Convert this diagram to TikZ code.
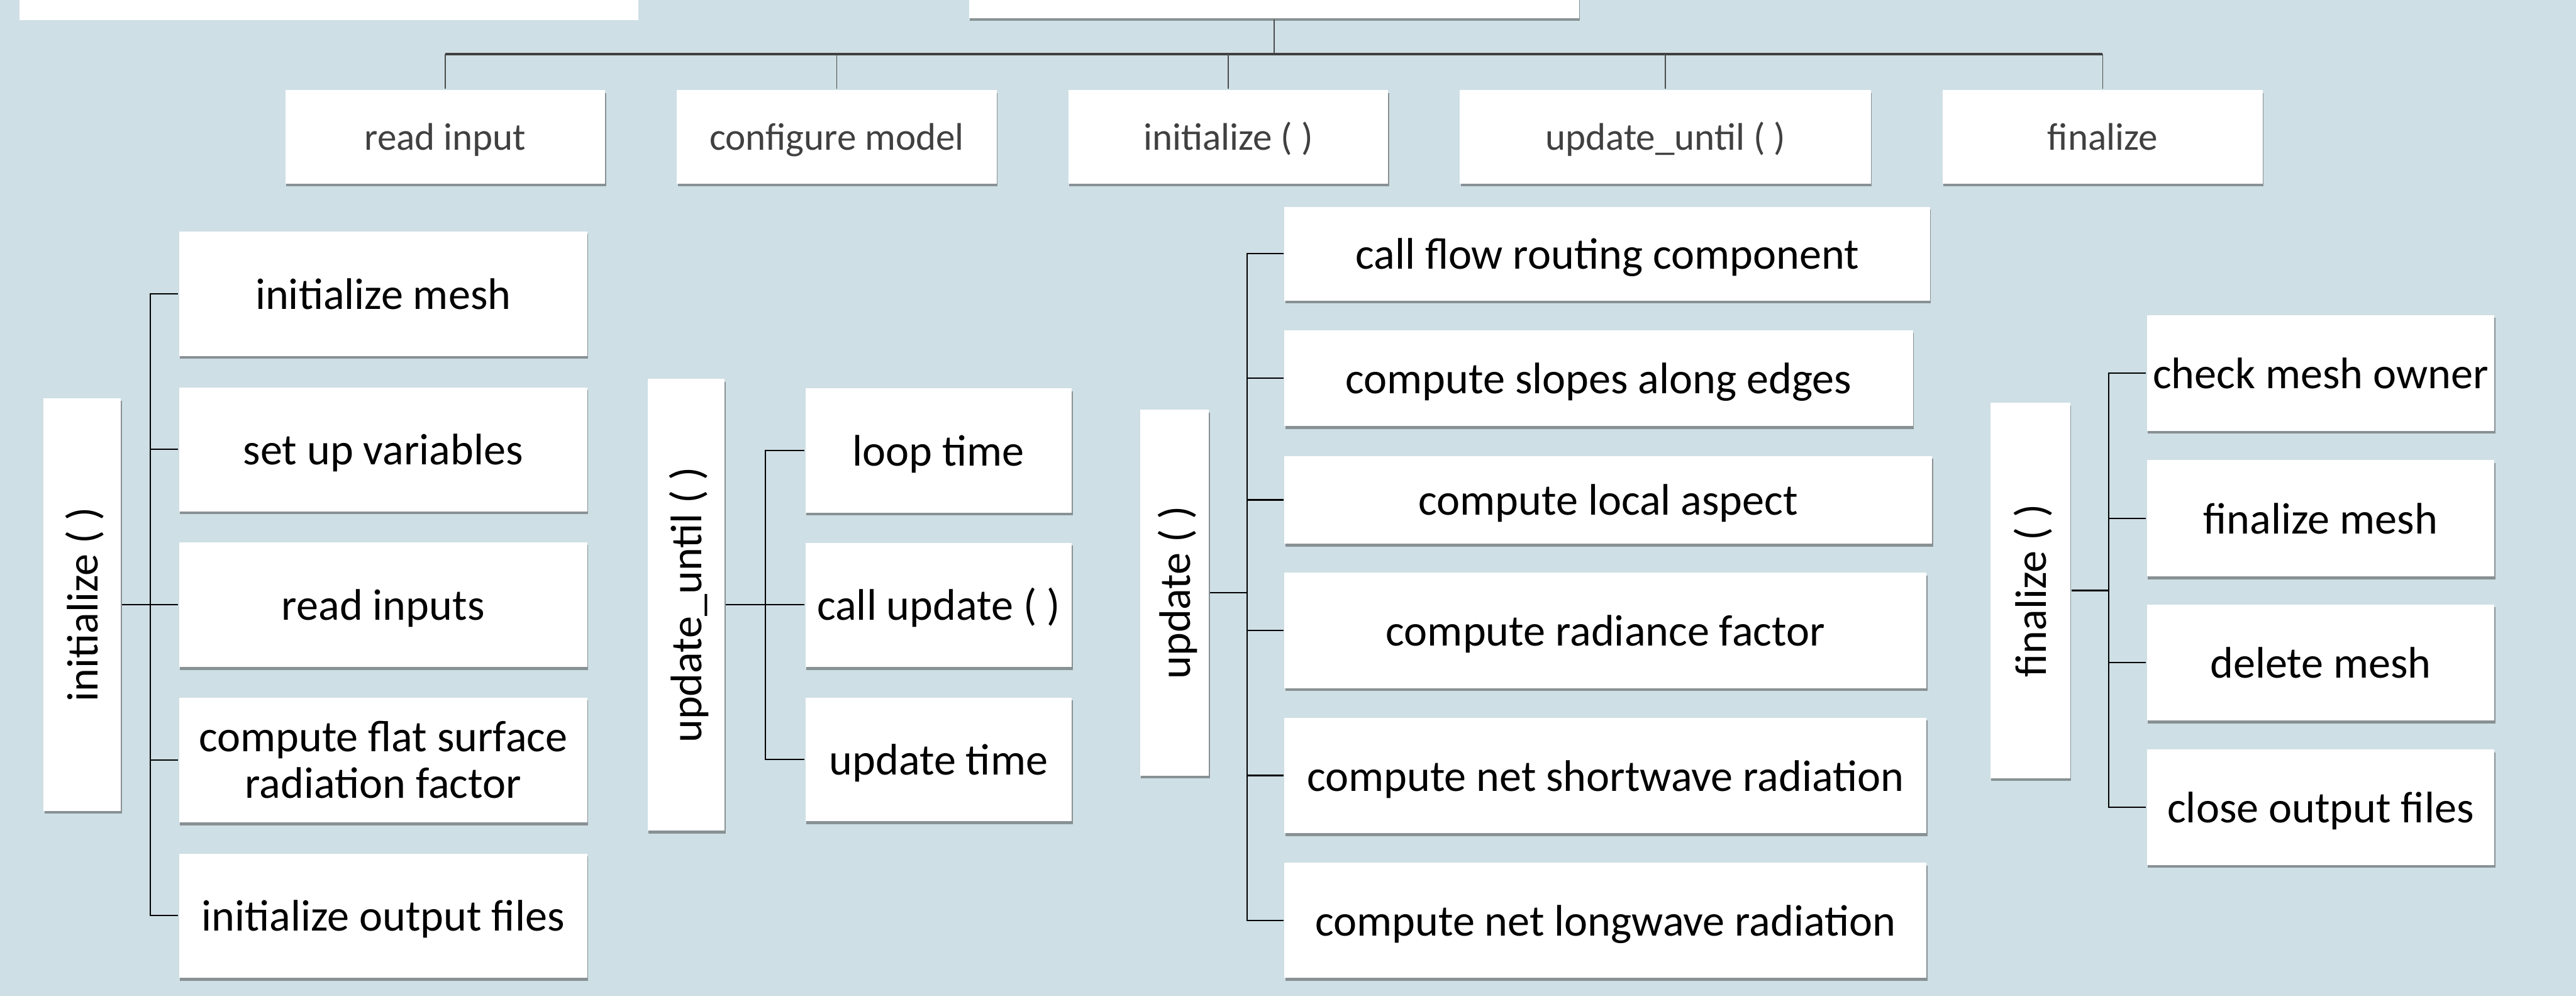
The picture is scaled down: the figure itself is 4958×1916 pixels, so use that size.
\documentclass[tikz,border=0pt]{standalone}
\usepackage{fontspec}
\setmainfont{Carlito}
\usepackage{graphicx}
\usetikzlibrary{shadows}
\definecolor{bg}{RGB}{206,223,229}
\definecolor{toptext}{RGB}{64,64,64}
\newcommand\vlabel[1]{\rotatebox{90}{\raisebox{0pt}[5.95pt][0pt]{#1}}}
\begin{document}
\begin{tikzpicture}[x=0.1pt,y=-0.1pt,
  plainbox/.style={fill=white, draw=none, inner sep=0pt, align=center},
  box/.style={plainbox, drop shadow={shadow xshift=0.15pt, shadow yshift=-0.55pt, opacity=0.45, fill=black!80},
    font=\fontsize{8.5}{9}\selectfont},
  oneline/.style={box, text height=5.95pt, text depth=0pt},
  topbox/.style={box, text=toptext, font=\fontsize{7.4}{8}\selectfont, text height=5.2pt, text depth=0pt},
  link/.style={draw=black, line width=0.28pt},
  toplink/.style={draw=black!70, line width=0.2pt},
  topbus/.style={draw=black!75, line width=0.45pt}]
\useasboundingbox (0,0) rectangle (4958,1916);
\clip (0,0) rectangle (4958,1916);
\fill[bg] (0,0) rectangle (4958,1916);

% top row
\node[plainbox, minimum width=119.2pt, minimum height=7.9pt] (tl) at (633,-0.5) {};
\node[box, minimum width=117.4pt, minimum height=7.5pt] (root) at (2452,-2.5) {};

\node[topbox, minimum width=61.6pt, minimum height=18pt] (t1) at (857,263) {read input};
\node[topbox, minimum width=61.5pt, minimum height=18pt] (t2) at (1610.5,263) {configure model};
\node[topbox, minimum width=61.6pt, minimum height=18pt] (t3) at (2364,263) {initialize ( )};
\node[topbox, minimum width=79.1pt, minimum height=18pt] (t4) at (3205.5,263) {update\_until ( )};
\node[topbox, minimum width=61.6pt, minimum height=18pt] (t5) at (4047,263) {finalize};

\coordinate (tbus) at (2452,104);
\draw[toplink] (root.south) -- (tbus);
\draw[topbus] (t1.north |- tbus) -- (t5.north |- tbus);
\foreach \n in {t1,t2,t3,t4,t5} \draw[toplink] (\n.north) -- (\n.north |- tbus);

% group A: initialize
\node[box, minimum width=14.9pt, minimum height=79.4pt] (pA) at (158.5,1163) {\vlabel{initialize ( )}};
\node[oneline, minimum width=78.5pt, minimum height=24pt] (a1) at (737.5,565) {initialize mesh};
\node[oneline, minimum width=78.5pt, minimum height=23.9pt] (a2) at (737.5,864.5) {set up variables};
\node[oneline, minimum width=78.5pt, minimum height=24pt] (a3) at (737.5,1163) {read inputs};
\node[box, minimum width=78.5pt, minimum height=24pt] (a4) at (737.5,1462) {compute flat surface\\radiation factor};
\node[oneline, minimum width=78.5pt, minimum height=23.9pt] (a5) at (737.5,1761.5) {initialize output files};
\coordinate (abus) at (289,0);
\draw[link] (a1.west) -- (a1.west -| abus) -- (a5.west -| abus) -- (a5.west);
\foreach \n in {a2,a3,a4} \draw[link] (\n.west) -- (\n.west -| abus);
\draw[link] (pA.east) -- (pA.east -| abus);

% group B: update_until
\node[box, minimum width=14.8pt, minimum height=86.9pt] (pB) at (1321,1163.5) {\vlabel{update\_until ( )}};
\node[oneline, minimum width=51.3pt, minimum height=23.9pt] (b1) at (1806.5,866.5) {loop time};
\node[oneline, minimum width=51.3pt, minimum height=23.9pt] (b2) at (1806.5,1163.5) {call update ( )};
\node[oneline, minimum width=51.3pt, minimum height=23.8pt] (b3) at (1806.5,1461) {update time};
\coordinate (bbus) at (1473,0);
\draw[link] (b1.west) -- (b1.west -| bbus) -- (b3.west -| bbus) -- (b3.west);
\draw[link] (b2.west) -- (b2.west -| bbus);
\draw[link] (pB.east) -- (pB.east -| bbus);

% group C: update
\node[box, minimum width=13.3pt, minimum height=70.4pt] (pC) at (2260.5,1140) {\vlabel{update ( )}};
\node[oneline, minimum width=124.3pt, minimum height=18pt] (c1) at (3093.5,488) {call flow routing component};
\node[oneline, minimum width=121pt, minimum height=18.5pt] (c2) at (3077,727.5) {compute slopes along edges};
\node[oneline, minimum width=124.7pt, minimum height=16.9pt] (c3) at (3095.5,961.5) {compute local aspect};
\node[oneline, minimum width=123.6pt, minimum height=22.2pt] (c4) at (3090,1213) {compute radiance factor};
\node[oneline, minimum width=123.6pt, minimum height=22.2pt] (c5) at (3090,1492) {compute net shortwave radiation};
\node[oneline, minimum width=123.6pt, minimum height=22.1pt] (c6) at (3090,1770.5) {compute net longwave radiation};
\coordinate (cbus) at (2400,0);
\draw[link] (c1.west) -- (c1.west -| cbus) -- (c6.west -| cbus) -- (c6.west);
\foreach \n in {c2,c3,c4,c5} \draw[link] (\n.west) -- (\n.west -| cbus);
\draw[link] (pC.east) -- (pC.east -| cbus);

% group D: finalize
\node[box, minimum width=15.4pt, minimum height=72.2pt] (pD) at (3908,1136) {\vlabel{finalize ( )}};
\node[oneline, minimum width=66.9pt, minimum height=22.3pt] (d1) at (4466.5,717.5) {check mesh owner};
\node[oneline, minimum width=66.9pt, minimum height=22.4pt] (d2) at (4466.5,997) {finalize mesh};
\node[oneline, minimum width=66.9pt, minimum height=22.3pt] (d3) at (4466.5,1274.5) {delete mesh};
\node[oneline, minimum width=66.9pt, minimum height=22.2pt] (d4) at (4466.5,1553) {close output files};
\coordinate (dbus) at (4059,0);
\draw[link] (d1.west) -- (d1.west -| dbus) -- (d4.west -| dbus) -- (d4.west);
\foreach \n in {d2,d3} \draw[link] (\n.west) -- (\n.west -| dbus);
\draw[link] (pD.east) -- (pD.east -| dbus);
\end{tikzpicture}
\end{document}
